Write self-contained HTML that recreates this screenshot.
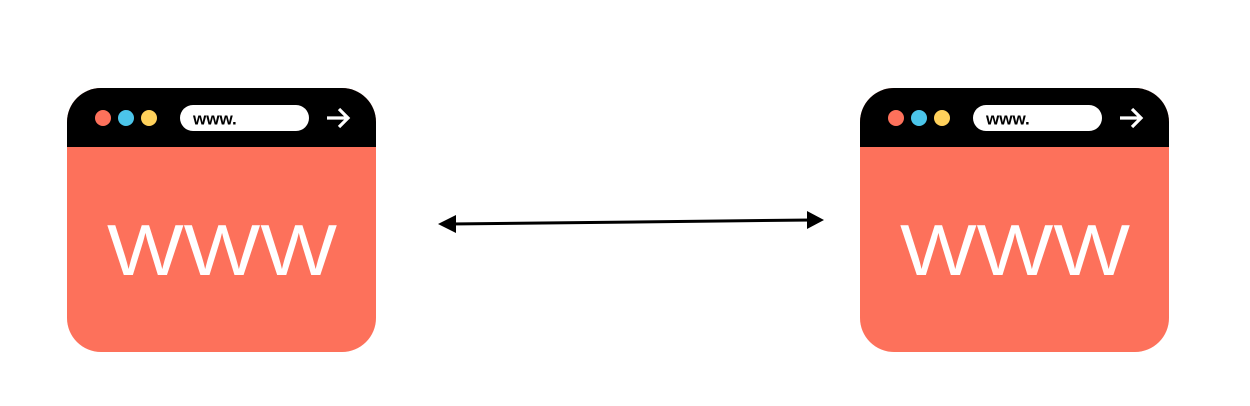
<!DOCTYPE html>
<html><head><meta charset="utf-8"><style>
html,body{margin:0;padding:0;background:#fff;width:1250px;height:406px;overflow:hidden}
</style></head><body>
<svg width="1250" height="406" viewBox="0 0 1250 406" xmlns="http://www.w3.org/2000/svg">
<defs>
<g id="win">
  <clipPath id="c"><rect x="67" y="88" width="309" height="264" rx="34" ry="34"/></clipPath>
  <g clip-path="url(#c)">
    <rect x="67" y="88" width="309" height="264" fill="#fd715b"/>
    <rect x="67" y="88" width="309" height="59" fill="#000"/>
  </g>
  <circle cx="103" cy="118" r="8" fill="#fd715b"/>
  <circle cx="126" cy="118" r="8" fill="#4bc5ea"/>
  <circle cx="149" cy="118" r="8" fill="#ffd15b"/>
  <rect x="180" y="105" width="129" height="26" rx="13" fill="#fff"/>
  <text x="193" y="124.5" font-family="Liberation Sans, sans-serif" font-size="17" font-weight="bold" fill="#000">www.</text>
  <path d="M327 118 H347 M339 109 L348 118 L339 127" stroke="#fff" stroke-width="3.2" fill="none" stroke-linecap="butt"/>
  <text x="107" y="275" font-family="Liberation Sans, sans-serif" font-size="72" fill="#fff" textLength="230" lengthAdjust="spacingAndGlyphs">WWW</text>
</g>
</defs>
<use href="#win"/>
<use href="#win" transform="translate(793,0)"/>
<line x1="450" y1="224" x2="812" y2="220" stroke="#000" stroke-width="3"/>
<polygon points="438,224 456,215 456,233" fill="#000"/>
<polygon points="824,220 807,211 807,229" fill="#000"/>
</svg>
</body></html>
